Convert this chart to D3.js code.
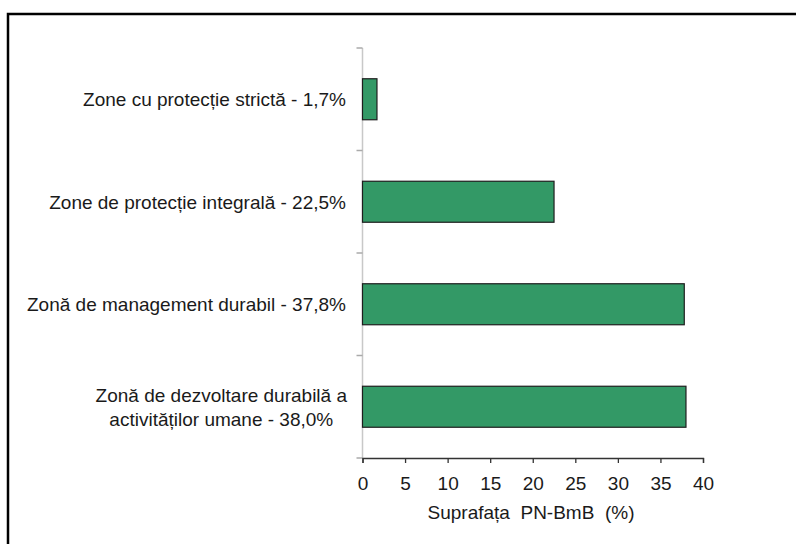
<!DOCTYPE html>
<html>
<head>
<meta charset="utf-8">
<script src="https://cdn.jsdelivr.net/npm/d3@7"></script>
<style>
  body { margin: 0; background: #fff; }
  text { font-family: "Liberation Sans", Arial, sans-serif; fill: #1a1a1a; }
</style>
</head>
<body>
<script>
var categories = [
  ["Zone cu protecție strictă - 1,7%"],
  ["Zone de protecție integrală - 22,5%"],
  ["Zonă de management durabil - 37,8%"],
  ["Zonă de dezvoltare durabilă a", "activităților umane - 38,0%"]
];
var values = [1.7, 22.5, 37.8, 38.0];
var xTicks = [0, 5, 10, 15, 20, 25, 30, 35, 40];
var xTitle = "Suprafața  PN-BmB  (%)";

var W = 796, H = 544;
var FS = '19px';
var svg = d3.select('body').append('svg').attr('width', W).attr('height', H);

// outer frame
svg.append('rect')
  .attr('x', 8).attr('y', 14)
  .attr('width', W + 10).attr('height', H + 10)
  .attr('fill', 'none').attr('stroke', '#000').attr('stroke-width', 2.5);

var x = d3.scaleLinear().domain([0, 40]).range([362.5, 703]);
var y = d3.scaleBand().domain(d3.range(categories.length))
  .range([48, 458]).paddingInner(0.6).paddingOuter(0.3);

// y axis line and ticks at category boundaries
var bounds = d3.range(categories.length + 1).map(function (i) { return 48 + i * (410 / categories.length); });
svg.append('line')
  .attr('x1', x(0)).attr('x2', x(0)).attr('y1', 48).attr('y2', 458)
  .attr('stroke', '#c8c8c8').attr('stroke-width', 1.5);
svg.selectAll('.ytick').data(bounds).enter().append('line')
  .attr('x1', x(0) - 6).attr('x2', x(0))
  .attr('y1', function (d) { return d; }).attr('y2', function (d) { return d; })
  .attr('stroke', '#aaa').attr('stroke-width', 1.5);

// bars
svg.selectAll('.bar').data(values).enter().append('rect')
  .attr('x', x(0))
  .attr('y', function (d, i) { return y(i); })
  .attr('width', function (d) { return x(d) - x(0); })
  .attr('height', y.bandwidth())
  .attr('fill', '#339966')
  .attr('stroke', '#1e1e1e').attr('stroke-width', 1.2);

// x axis
var xAxis = svg.append('g').attr('transform', 'translate(0,458)')
  .call(d3.axisBottom(x).tickValues(xTicks).tickSize(5).tickPadding(14));
xAxis.select('.domain').attr('stroke', '#333').attr('stroke-width', 1.3);
xAxis.selectAll('.tick line').attr('stroke', '#333').attr('stroke-width', 1.3);
xAxis.selectAll('text').style('font-size', FS)
  .style('font-family', '"Liberation Sans", Arial, sans-serif').attr('fill', '#1a1a1a');

svg.append('text')
  .attr('x', 531).attr('y', 519)
  .attr('text-anchor', 'middle')
  .style('font-size', FS).style('white-space', 'pre')
  .text(xTitle);

// category labels
categories.forEach(function (lines, i) {
  var cy = y(i) + y.bandwidth() / 2;
  if (lines.length === 1) {
    svg.append('text')
      .attr('x', 346).attr('y', cy + 7)
      .attr('text-anchor', 'end')
      .style('font-size', FS)
      .text(lines[0]);
  } else {
    var g = svg.append('g');
    var ts = lines.map(function (s, j) {
      return g.append('text')
        .attr('y', cy + 7 + (j - (lines.length - 1) / 2) * 24)
        .attr('text-anchor', 'middle')
        .style('font-size', FS)
        .text(s);
    });
    var maxW = d3.max(ts, function (t) { return t.node().getComputedTextLength(); });
    ts.forEach(function (t) { t.attr('x', 347 - maxW / 2); });
  }
});
</script>
</body>
</html>
